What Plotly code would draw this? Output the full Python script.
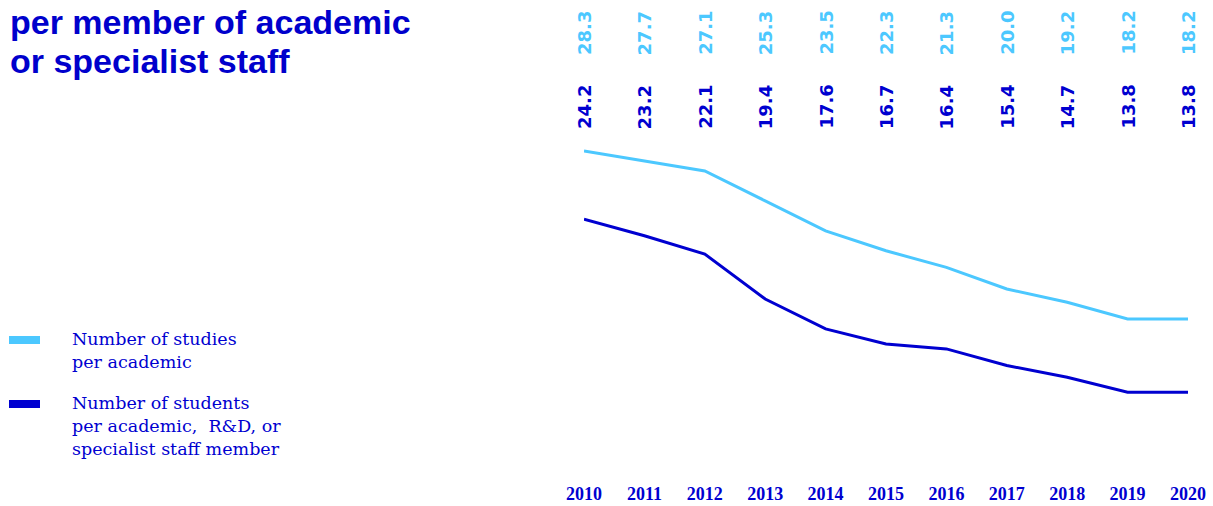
import plotly.graph_objects as go

years = [2010, 2011, 2012, 2013, 2014, 2015, 2016, 2017, 2018, 2019, 2020]
studies_per_academic = [28.3, 27.7, 27.1, 25.3, 23.5, 22.3, 21.3, 20.0, 19.2, 18.2, 18.2]
students_per_staff = [24.2, 23.2, 22.1, 19.4, 17.6, 16.7, 16.4, 15.4, 14.7, 13.8, 13.8]
series_names = ["Number of studies<br>per academic",
                "Number of students<br>per academic,  R&D, or<br>specialist staff member"]
title_lines = ["per member of academic", "or specialist staff"]

LIGHT = "#4CC8FF"
DARK = "#0000D0"
TITLE = "#0000CC"

W, H = 1213, 506
ML, MR, MT, MB = 584, 25, 130, 26
PW, PH = W - ML - MR, H - MT - MB


def px_x(px):
    return (px - ML) / PW


def px_y(py):
    return (H - MB - py) / PH


fig = go.Figure()
fig.add_trace(go.Scatter(x=years, y=studies_per_academic, mode="lines",
                         line=dict(color=LIGHT, width=3), name="studies",
                         showlegend=False, hoverinfo="x+y", cliponaxis=False))
fig.add_trace(go.Scatter(x=years, y=students_per_staff, mode="lines",
                         line=dict(color=DARK, width=3), name="students",
                         showlegend=False, hoverinfo="x+y", cliponaxis=False))

annotations = []
for yr, v in zip(years, studies_per_academic):
    annotations.append(dict(x=yr, y=px_y(33), xref="x", yref="paper",
                            text=f"<b>{v:.1f}</b>", textangle=-90, showarrow=False,
                            font=dict(family="DejaVu Sans", size=18, color=LIGHT),
                            xanchor="center", yanchor="middle"))
for yr, v in zip(years, students_per_staff):
    annotations.append(dict(x=yr, y=px_y(107), xref="x", yref="paper",
                            text=f"<b>{v:.1f}</b>", textangle=-90, showarrow=False,
                            font=dict(family="DejaVu Sans", size=18, color=DARK),
                            xanchor="center", yanchor="middle"))

# Title (partial, as visible)
for line, cy in zip(title_lines, [22, 61]):
    annotations.append(dict(x=px_x(9), y=px_y(cy), xref="paper", yref="paper",
                            text=f"<b>{line}</b>", showarrow=False, align="left",
                            xanchor="left", yanchor="middle", borderpad=0,
                            font=dict(family="Liberation Sans", size=34, color=TITLE)))

# Legend text
annotations.append(dict(x=px_x(70), y=px_y(327), xref="paper", yref="paper",
                        text=series_names[0], showarrow=False, align="left",
                        xanchor="left", yanchor="top",
                        font=dict(family="DejaVu Serif", size=17.5, color=DARK)))
annotations.append(dict(x=px_x(70), y=px_y(391), xref="paper", yref="paper",
                        text=series_names[1], showarrow=False, align="left",
                        xanchor="left", yanchor="top",
                        font=dict(family="DejaVu Serif", size=17.5, color=DARK)))

shapes = [
    dict(type="rect", xref="paper", yref="paper", x0=px_x(9), x1=px_x(40),
         y0=px_y(344), y1=px_y(336), fillcolor=LIGHT, line=dict(width=0)),
    dict(type="rect", xref="paper", yref="paper", x0=px_x(9), x1=px_x(40),
         y0=px_y(408), y1=px_y(400), fillcolor=DARK, line=dict(width=0)),
]

fig.update_layout(
    width=W, height=H,
    margin=dict(l=ML, r=MR, t=MT, b=MB, autoexpand=False),
    plot_bgcolor="white", paper_bgcolor="white",
    annotations=annotations, shapes=shapes,
    xaxis=dict(range=[2010, 2020], tickmode="array", tickvals=years,
               ticktext=[f"<b>{y}</b>" for y in years],
               tickfont=dict(family="Liberation Serif", size=18, color=DARK),
               showgrid=False, zeroline=False, showline=False, ticks="",
               ticklabelstandoff=1, automargin=False),
    yaxis=dict(range=[28.3 - (480 - 151) / 16.63, 28.3 + 21 / 16.63],
               visible=False, showgrid=False, zeroline=False, automargin=False),
)

fig.write_html("out.html",
               config={"displayModeBar": False},
               post_script="document.body.style.margin='0px';"
                           "document.body.style.overflow='hidden';")
